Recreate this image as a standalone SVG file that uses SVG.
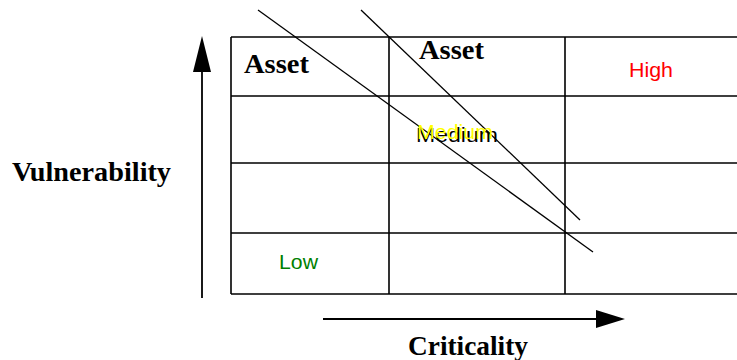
<svg xmlns="http://www.w3.org/2000/svg" width="737" height="360" viewBox="0 0 737 360">
<defs>
<style>
.g{stroke:#000;stroke-width:1.6;fill:none}
.l{stroke:#000;stroke-width:1.3;fill:none}
.t{font-family:"Liberation Serif",serif;font-weight:bold;font-size:28px;fill:#000}
.s{font-family:"Liberation Sans",Arial,sans-serif;font-size:21px}
</style>
</defs>
<rect width="737" height="360" fill="#fff"/>
<g id="grid">
<path class="g" d="M231,37 H737 M231,96 H737 M231,163 H737 M231,233 H737 M231,294 H737 M231,37 V294 M389,37 V294 M565,37 V294"/>
</g>
<g id="connectors">
<line class="l" x1="258" y1="10" x2="593" y2="252"/>
<line class="l" x1="361" y1="10" x2="580" y2="220"/>
<line x1="202" y1="298" x2="202" y2="72" stroke="#000" stroke-width="1.8"/>
<path d="M202,36 L211,72 L193,72 z" fill="#000"/>
<line x1="323" y1="319" x2="597" y2="319" stroke="#000" stroke-width="1.8"/>
<path d="M625,319 L596,310 L596,328 z" fill="#000"/>
</g>
<g id="asset1"><text class="t" x="244" y="73" textLength="65" lengthAdjust="spacingAndGlyphs">Asset</text></g>
<g id="asset2"><text class="t" x="419" y="59" textLength="65" lengthAdjust="spacingAndGlyphs">Asset</text></g>
<g id="high"><text class="s" x="629" y="77" fill="#ff0000" textLength="44" lengthAdjust="spacingAndGlyphs">High</text></g>
<g id="medium">
<text class="s" x="416" y="142" fill="#000" textLength="82" lengthAdjust="spacingAndGlyphs">Medium</text>
<text class="s" x="417" y="139" fill="#ffff00" textLength="76" lengthAdjust="spacingAndGlyphs">Medium</text>
</g>
<g id="low"><text class="s" x="279" y="269" fill="#008000" textLength="39" lengthAdjust="spacingAndGlyphs">Low</text></g>
<g id="vulnerability"><text class="t" x="12" y="181" textLength="159" lengthAdjust="spacingAndGlyphs">Vulnerability</text></g>
<g id="criticality"><text class="t" x="408" y="355" textLength="120" lengthAdjust="spacingAndGlyphs">Criticality</text></g>
</svg>
